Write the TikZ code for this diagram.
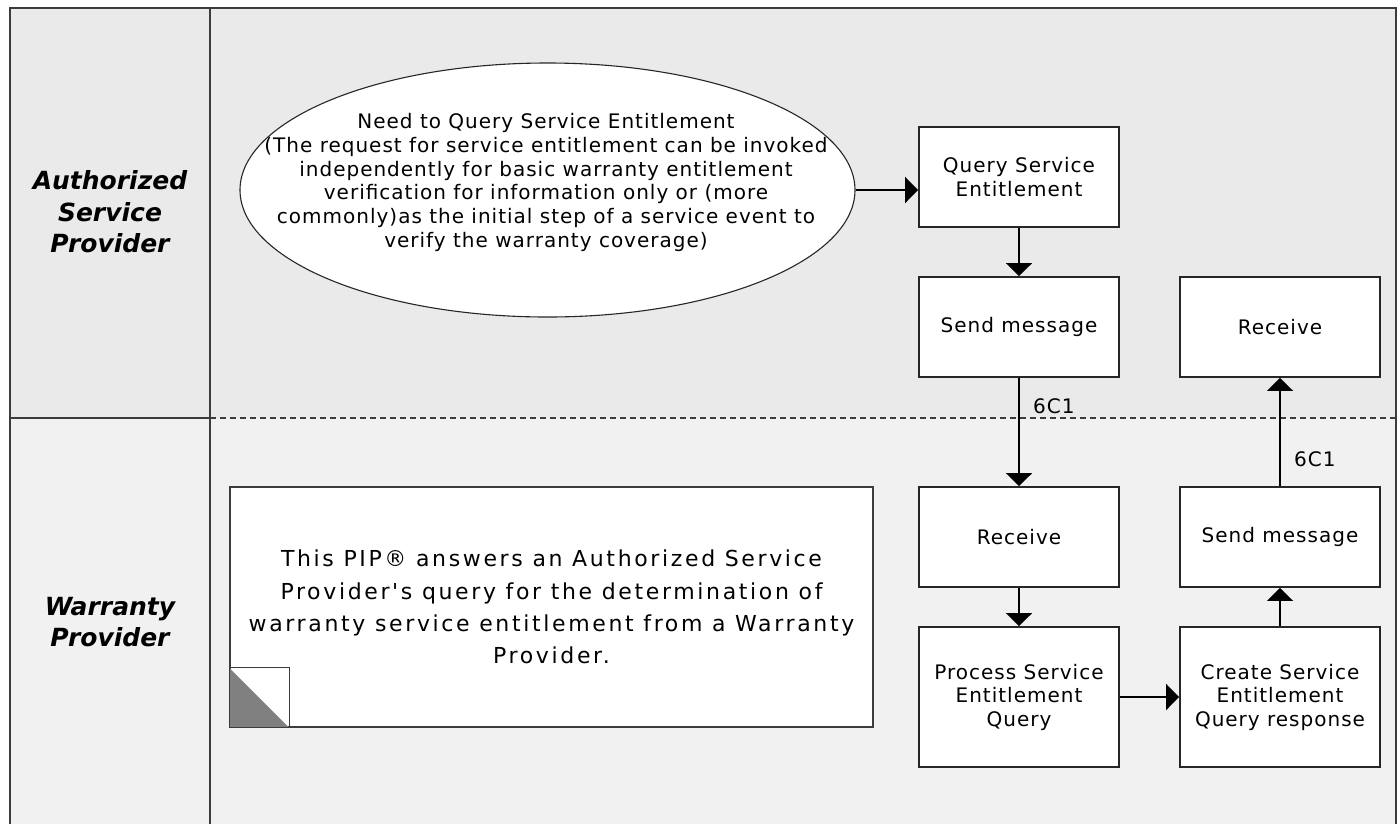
\documentclass[tikz,border=0pt]{standalone}
\usepackage{fontspec}
\setmainfont{DejaVu Sans}
\newfontfamily\diafont[LetterSpace=5]{DejaVu Sans}
\newfontfamily\notefont[LetterSpace=12]{DejaVu Sans}
\usetikzlibrary{arrows.meta,shapes.geometric}
\definecolor{lanetop}{RGB}{234,234,234}
\definecolor{lanebot}{RGB}{241,241,241}
\definecolor{framegray}{RGB}{60,60,60}
\definecolor{cornergray}{RGB}{128,128,128}

\begin{document}
\begin{tikzpicture}[x=1pt,y=-1pt,
  lane/.style={draw=framegray,line width=1.6pt},
  actbox/.style={draw=black!85,fill=white,line width=1.8pt,minimum width=200pt,
    minimum height=100pt,inner sep=0pt,align=center,
    font=\diafont\fontsize{20}{23.5}\selectfont},
  flow/.style={-{Triangle[length=13pt,width=26pt]},line width=1.6pt},
  msglbl/.style={font=\diafont\fontsize{20}{22}\selectfont,inner sep=0pt,anchor=base west},
  lanehead/.style={align=center,font=\fontsize{25}{31.5}\selectfont\bfseries\itshape}]
  \useasboundingbox (0,0) rectangle (1400,823);
  \clip (0,0) rectangle (1400,823);
  % swim lanes
  \fill[lanetop] (10,8) rectangle (1396,418);
  \fill[lanebot] (10,418) rectangle (1396,830);
  \draw[lane] (10,830) -- (10,8) -- (1396,8) -- (1396,830);
  \draw[lane] (210,8) -- (210,830);
  \draw[lane] (10,418) -- (210,418);
  \draw[lane,line width=1.3pt,dash pattern=on 6pt off 4pt] (210,418) -- (1396,418);
  \node[lanehead] (asplbl) at (110,212) {Authorized\\Service\\Provider};
  \node[lanehead] (wplbl) at (110,622) {Warranty\\Provider};
  % start event
  \node[ellipse,draw=black!85,line width=1.1pt,fill=white,minimum width=615pt,
    minimum height=254pt,inner sep=0pt] (needell) at (547.5,190) {};
  \node[align=center,font=\diafont\fontsize{20}{23.8}\selectfont] (needtxt) at (546,182.5)
    {Need to Query Service Entitlement\\(The request for service entitlement can be invoked\\
     independently for basic warranty entitlement\\verification for information only or (more\\
     commonly)as the initial step of a service event to\\verify the warranty coverage)};
  % activities
  \node[actbox] (query) at (1019,177) {Query Service\\Entitlement};
  \node[actbox] (sendasp) at (1019,327) {Send message};
  \node[actbox] (recvasp) at (1280,327) {Receive};
  \node[actbox] (recvwp) at (1019,537) {Receive};
  \node[actbox] (sendwp) at (1280,537) {Send message};
  \node[actbox,minimum height=140pt] (process) at (1019,697) {Process Service\\Entitlement\\Query};
  \node[actbox,minimum height=140pt] (create) at (1280,697) {Create Service\\Entitlement\\Query response};
  % note
  \node[draw=framegray,line width=1.6pt,fill=white,minimum width=643pt,minimum height=240pt,
    inner sep=0pt,align=center,font=\notefont\fontsize{22}{32.3}\selectfont] (pipnote) at (551.5,607)
    {This PIP® answers an Authorized Service\\Provider's query for the determination of\\
     warranty service entitlement from a Warranty\\Provider.};
  \fill[cornergray] (pipnote.south west) -- ++(0,-60) -- ++(60,60) -- cycle;
  \draw[framegray,line width=1pt] (pipnote.south west) rectangle ++(60,-60);
  % flows
  \draw[flow] (needell.east) -- (needell.east -| query.west);
  \draw[flow] (query) -- (sendasp);
  \draw[flow] (sendasp) -- (recvwp);
  \draw[flow] (recvwp) -- (process);
  \draw[flow] (process) -- (create);
  \draw[flow] (create) -- (sendwp);
  \draw[flow] (sendwp) -- (recvasp);
  \node[msglbl] (lblreq) at (1033,413) {6C1};
  \node[msglbl] (lblresp) at (1294,466) {6C1};
\end{tikzpicture}
\end{document}
